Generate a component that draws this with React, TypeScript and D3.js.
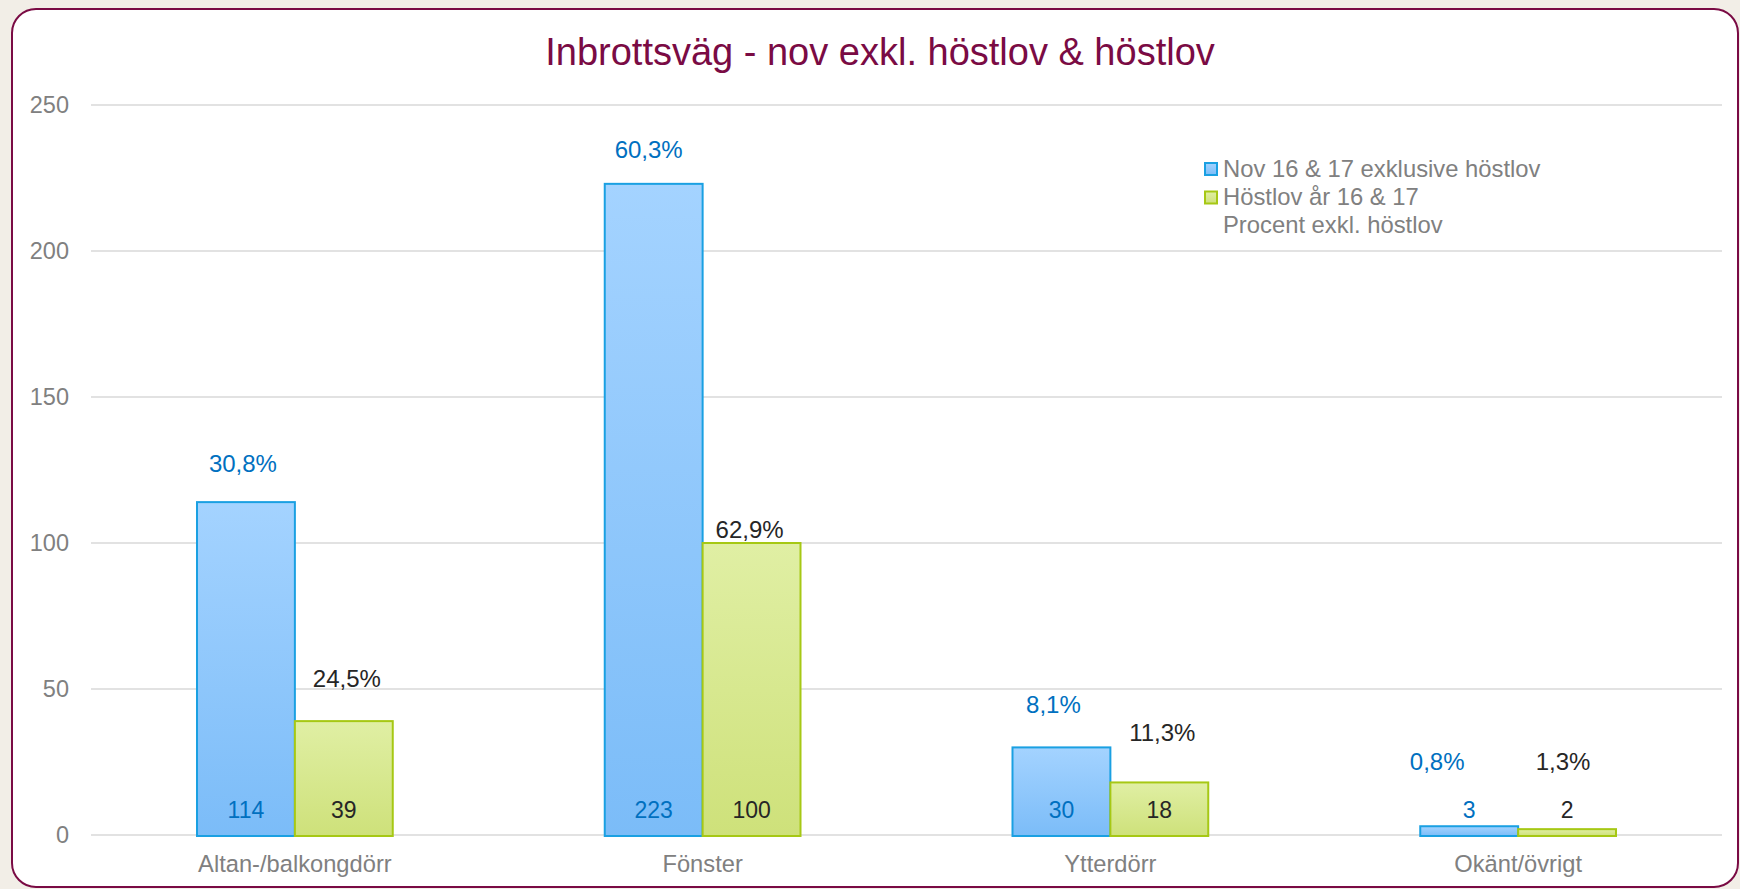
import React from "react";
import { scaleBand, scaleLinear } from "d3";

// data
const categories = ["Altan-/balkongdörr", "Fönster", "Ytterdörr", "Okänt/övrigt"];
const series = ["Nov 16 & 17 exklusive höstlov", "Höstlov år 16 & 17"];
const novValues = [114, 223, 30, 3];
const hostValues = [39, 100, 18, 2];
const novPercent = ["30,8%", "60,3%", "8,1%", "0,8%"];
const hostPercent = ["24,5%", "62,9%", "11,3%", "1,3%"];
const extraLegend = "Procent exkl. höstlov";
const yTicks = [0, 50, 100, 150, 200, 250];

// hand-placed percent labels in the original: [dx, lift above bar]
const novNudge = [[-3, 30], [-5, 26], [-8, 34], [-32, 56]];
const hostNudge = [[3, 34], [-2, 5], [3, 41], [-4, 59]];

const W = 1740;
const H = 889;
const FONT = "'Liberation Sans', Arial, Helvetica, sans-serif";
const GREY = "#808080";
const BLUE_TXT = "#0070c0";
const DARK_TXT = "#262626";
const WINE = "#7a0b44";

const plot = { left: 91, right: 1722, top: 105, bottom: 835 };

const App = () => {
  const x = scaleBand<string>()
    .domain(categories)
    .range([plot.left, plot.right])
    .paddingInner(0)
    .paddingOuter(0);

  const inner = scaleBand<string>()
    .domain(series)
    .range([0, x.bandwidth()])
    .paddingInner(0)
    .paddingOuter(1.083);

  const y = scaleLinear().domain([0, 250]).range([plot.bottom, plot.top]);

  const seriesData = [
    { name: series[0], values: novValues, pct: novPercent, nudge: novNudge, grad: "gBlue", stroke: "#1aa0e2", txt: BLUE_TXT },
    { name: series[1], values: hostValues, pct: hostPercent, nudge: hostNudge, grad: "gGreen", stroke: "#a6c814", txt: DARK_TXT },
  ];

  return (
    <svg
      width={W}
      height={H}
      style={{ position: "absolute", left: 0, top: 0, fontFamily: FONT }}
    >
      <defs>
        <linearGradient id="gBlue" x1="0" y1="0" x2="0" y2="1">
          <stop offset="0%" stopColor="#a4d3ff" />
          <stop offset="100%" stopColor="#7bbcf8" />
        </linearGradient>
        <linearGradient id="gGreen" x1="0" y1="0" x2="0" y2="1">
          <stop offset="0%" stopColor="#e0efa4" />
          <stop offset="100%" stopColor="#cee17a" />
        </linearGradient>
      </defs>

      <rect x={0} y={0} width={W} height={H} fill="#f2eee7" />
      <rect x={12} y={9} width={1726} height={878} rx={24} ry={24} fill="#ffffff" stroke={WINE} strokeWidth={2} />

      <text x={880} y={65} textAnchor="middle" fontSize={38} fill={WINE}>
        Inbrottsväg - nov exkl. höstlov &amp; höstlov
      </text>

      {/* gridlines + y ticks */}
      {yTicks.map((t) => (
        <g key={t}>
          <line x1={plot.left} x2={plot.right} y1={y(t)} y2={y(t)} stroke="#d9d9d9" strokeWidth={1.5} />
          <text x={69} y={y(t)} dy="0.35em" textAnchor="end" fontSize={23.5} fill={GREY}>
            {t}
          </text>
        </g>
      ))}

      {/* bars */}
      {seriesData.map((s) =>
        categories.map((c, i) => {
          const bx = (x(c) ?? 0) + (inner(s.name) ?? 0);
          const bw = inner.bandwidth();
          const top = y(s.values[i]);
          return (
            <g key={s.name + c}>
              <rect
                x={bx}
                y={top}
                width={bw}
                height={y(0) - top + 1}
                fill={`url(#${s.grad})`}
                stroke={s.stroke}
                strokeWidth={2}
              />
              <text x={bx + bw / 2} y={818} textAnchor="middle" fontSize={23} fill={s.txt}>
                {s.values[i]}
              </text>
              <text
                x={bx + bw / 2 + s.nudge[i][0]}
                y={top - s.nudge[i][1]}
                textAnchor="middle"
                fontSize={24}
                fill={s.txt}
              >
                {s.pct[i]}
              </text>
            </g>
          );
        })
      )}

      {/* category labels */}
      {categories.map((c) => (
        <text key={c} x={(x(c) ?? 0) + x.bandwidth() / 2} y={872} textAnchor="middle" fontSize={23.7} fill={GREY}>
          {c}
        </text>
      ))}

      {/* legend */}
      <g>
        {seriesData.map((s, i) => (
          <g key={s.name}>
            <rect x={1205} y={163 + i * 28.5} width={12} height={12} fill={`url(#${s.grad})`} stroke={s.stroke} strokeWidth={2} />
            <text x={1223} y={176.7 + i * 28.3} fontSize={23.8} fill={GREY}>
              {s.name}
            </text>
          </g>
        ))}
        <text x={1223} y={233.3} fontSize={23.8} fill={GREY}>
          {extraLegend}
        </text>
      </g>
    </svg>
  );
};

export default App;
